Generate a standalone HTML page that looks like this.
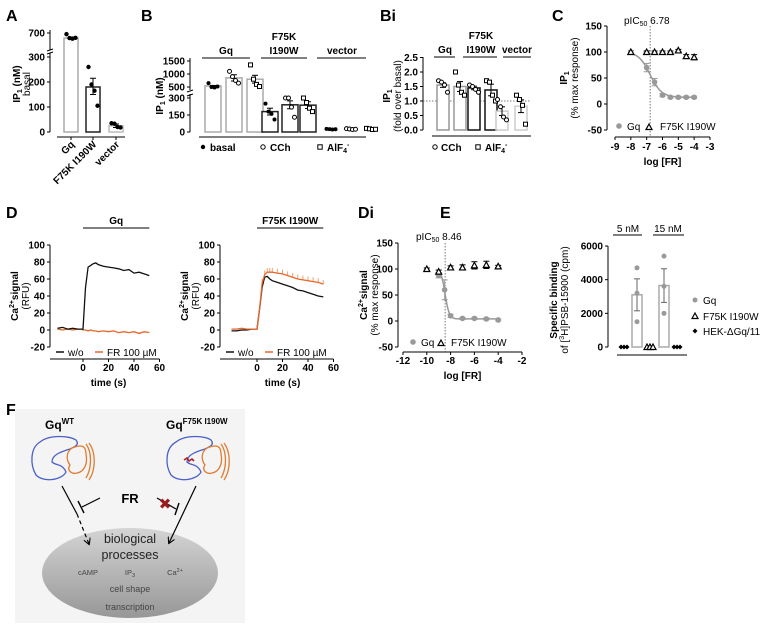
<!DOCTYPE html>
<html><head><meta charset="utf-8">
<style>
html,body{margin:0;padding:0;background:#fff;}
svg{display:block;font-family:"Liberation Sans",Arial,sans-serif;}
.t{font-size:10px;font-weight:bold;fill:#000;}
.tn{font-size:10px;fill:#000;}
.p{font-size:16px;font-weight:bold;}
</style></head><body>
<svg id="fig" width="765" height="624" viewBox="0 0 765 624" xmlns="http://www.w3.org/2000/svg">
<text class="p" x="6" y="21">A</text>
<text class="p" x="141" y="21">B</text>
<text class="p" x="380" y="21">Bi</text>
<text class="p" x="552" y="21">C</text>
<text class="p" x="6" y="218">D</text>
<text class="p" x="358" y="218">Di</text>
<text class="p" x="440" y="218">E</text>
<text class="p" x="6" y="415">F</text>
<g id="g"></g>
</svg>
<script>
// ---------- DATA ----------
// Panel A
const aCats=["Gq","F75K I190W","vector"];
const aBars=[610,180,25];
const aPts=[[680,610,600,615],[260,190,165,105],[35,33,20,18]];
const aErr=[[590,630],[150,215],[18,32]];
// Panel B
const bGroups=["Gq","F75K I190W","vector"];
const bConds=["basal","CCh","AlF4-"];
const bBars=[[540,850,800],[180,240,237],[25,25,25]];
const bPts=[[[650,500,480,520],[1100,900,750,650],[1350,800,600,520]],
            [[250,180,160,110],[300,300,220,130],[300,260,210,180]],
            [[28,25,22,24],[30,26,22,24],[32,28,22,24]]];
const bErr=[[20,120,150],[30,35,30],[3,3,3]];
// Panel Bi
const biBars=[[1.55,1.5],[1.45,1.38],[0.65,0.82]];
const biPts=[[[1.7,1.65,1.55,1.3],[2.0,1.55,1.3,1.2]],[[1.55,1.5,1.4,1.3],[1.7,1.65,1.2,1.0]],[[1.05,0.8,0.45,0.35],[1.2,1.05,0.85,0.2]]];
const biErr=[[0.08,0.17],[0.06,0.2],[0.15,0.22]];
const biTicks=["0.0","0.5","1.0","1.5","2.0","2.5"];
// Panel C
const cX=[-8,-7,-6.5,-6,-5.5,-5,-4.5,-4];
const cGq=[100,70,42,17,13,13,13,13];
const cGqErr=[3,8,7,3,2,2,2,2];
const cMut=[100,100,100,100,100,103,92,90];
const cMutErr=[2,2,2,2,2,2,3,5];
const cPIC=6.78;
// Panel D
const dT=[-20,-16,-12,-8,-4,-1,0,2,4,6,8,10,12,16,20,24,28,32,36,40,44,48,52];
const dGqWo=[2,3,1,2,1,1,1,50,74,76,78,79,77,75,74,73,72,70,71,67,68,66,64];
const dGqFR=[1,0,1,0,1,1,0,0,-1,0,-1,-1,-2,-1,-2,-1,-3,-2,-3,-2,-4,-2,-3];
const dMutWo=[-1,-1,0,0,1,1,1,25,50,62,63,60,58,56,54,52,50,47,46,44,42,40,39];
const dMutFR=[1,1,2,1,1,1,1,25,55,65,68,68,68,67,66,64,62,60,59,58,57,56,54];
// Panel Di
const diX=[-9,-8.5,-8,-7,-6,-5,-4];
const diGq=[88,60,10,5,5,4,2];
const diGqErr=[5,19,3,2,2,2,2];
const diMutX=[-10,-9,-8,-7,-6,-5,-4];
const diMut=[100,95,103,103,107,108,105];
const diMutErr=[2,3,3,5,7,7,2];
const diPIC=8.46;
// Panel E
const eConc=["5 nM","15 nM"];
const eGq=[3100,3650];
const eGqErr=[950,1000];
const eGqPts=[[4700,3200,1500],[5400,3600,2000]];
const eMut=[0,0];
const eHek=[0,0];

// ---------- HELPERS ----------
const NS="http://www.w3.org/2000/svg";
const G=document.getElementById('g');
function mk(tag,at,txt){const e=document.createElementNS(NS,tag);for(const k in at)e.setAttribute(k,at[k]);if(txt!==undefined)e.textContent=txt;G.appendChild(e);return e;}
function ln(x1,y1,x2,y2,name,st,w,dash){const e=mk('line',{x1,y1,x2,y2,stroke:st||'#000','stroke-width':w||1});if(dash)e.setAttribute('stroke-dasharray',dash);


return e;}
function tx(x,y,s,name,cls,anchor,extra){const e=mk('text',Object.assign({x,y,class:cls||'t','text-anchor':anchor||'middle'},extra||{}),s);


return e;}
function dot(x,y,kind,color,name,r){let e;r=r||2.2;
if(kind==='f')e=mk('circle',{cx:x,cy:y,r,fill:color||'#000'});
else if(kind==='o')e=mk('circle',{cx:x,cy:y,r,fill:'#fff',stroke:color||'#000','stroke-width':1});
else if(kind==='s')e=mk('rect',{x:x-r,y:y-r,width:2*r,height:2*r,fill:'#fff',stroke:color||'#000','stroke-width':1});
else if(kind==='t')e=mk('path',{d:`M${x},${y-3}L${x+3},${y+2.5}L${x-3},${y+2.5}Z`,fill:'#fff',stroke:'#000','stroke-width':1.2});
else if(kind==='d')e=mk('path',{d:`M${x},${y-2.5}L${x+2.5},${y}L${x},${y+2.5}L${x-2.5},${y}Z`,fill:'#000'});


return e;}
function bar(x,w,ytop,ybot,color,name,sw){const e=mk('rect',{x,y:Math.min(ytop,ybot),width:w,height:Math.abs(ybot-ytop),fill:'#fff',stroke:color,'stroke-width':sw||1.5});


return e;}
function err(x,y1,y2,color,name){ln(x,y1,x,y2,name,color,1);ln(x-3,y1,x+3,y1,name+'-cap',color,1);ln(x-3,y2,x+3,y2,name+'-cap',color,1);}
function yTicks(x,ticks,f,name,labels){ticks.forEach((v,i)=>{const y=f(v);ln(x-3,y,x,y,name+'-tick');tx(x-5,y+3.5,labels?labels[i]:String(v),name+'-label','t','end');});}

// ---------- PANEL A ----------
const yAl=v=>132-v*0.25, yAu=v=>33+(700-v)*0.0567;
const yA=v=>v>300?yAu(v):yAl(v);
ln(50,132,50,53,'a-y-axis');ln(50,50,50,30,'a-y-axis-upper');
ln(47,54,53,52,'a-axis-break');ln(47,51,53,49,'a-axis-break');
yTicks(50,[0,100,200,300],yAl,'a-y');yTicks(50,[700],yAu,'a-y');
const tA=tx(0,0,'','a-ylabel');tA.setAttribute('transform','translate(20,84) rotate(-90)');tA.innerHTML='IP<tspan font-size="7" dy="2">1</tspan><tspan dy="-2"> (nM)</tspan>';
const tA2=tx(0,0,'basal','a-ylabel-basal','tn');tA2.setAttribute('transform','translate(30,84) rotate(-90)');tA2.setAttribute('fill','#777');
ln(57,137,125,137,'a-x-axis');
const aX=[71,93,116], aCol=['#aaa','#222','#bbb'];
aCats.forEach((c,i)=>{bar(aX[i]-7,14,yA(aBars[i]),132,aCol[i],'a-bar-'+i);
err(aX[i],yA(aErr[i][0]),yA(aErr[i][1]),'#000','a-err-'+i);
aPts[i].forEach((v,j)=>dot(aX[i]-4.5+j*3,yA(v),'f','#000','a-point'));
ln(aX[i],137,aX[i],140,'a-x-tick');
const l=tx(0,0,c,'a-x-label-'+i,'t','end');l.setAttribute('transform',`translate(${aX[i]+4},145) rotate(-45)`);});

// ---------- PANEL B ----------
const yBl=v=>132-v*0.1133, yBu=v=>87-(v-500)*0.026;
const yB=v=>v>300?yBu(v):yBl(v);
ln(190,132,190,94,'b-y-axis');ln(190,90,190,58,'b-y-axis-upper');
ln(187,96,193,94,'b-axis-break');ln(187,92,193,90,'b-axis-break');
yTicks(190,[0,150,300],yBl,'b-y');yTicks(190,[500,1000,1500],yBu,'b-y');
const tB=tx(0,0,'','b-ylabel');tB.setAttribute('transform','translate(163,96) rotate(-90)');tB.innerHTML='IP<tspan font-size="7" dy="2">1</tspan><tspan dy="-2"> (nM)</tspan>';
ln(199,137,366,137,'b-x-axis');
const bGX=[[213,234,255],[270,290,308],[331,351,371]], bCol=['#aaa','#222','#ccc'], bK=['f','o','s'];
bGroups.forEach((g,i)=>{bGX[i].forEach((x,k)=>{
 if(i<2){bar(x-8,16,yB(bBars[i][k]),132,bCol[i],'b-bar');err(x,yB(bBars[i][k]-bErr[i][k]),yB(bBars[i][k]+bErr[i][k]),'#000','b-err');}
 bPts[i][k].forEach((v,j)=>dot(x-4.5+j*3,yB(v),bK[k],'#000','b-point',2));});});
ln(202,58,250,58,'b-group-line-gq');tx(226,54,'Gq','b-group-gq');
ln(261,58,307,58,'b-group-line-mut');tx(284,40,'F75K','b-group-mut');tx(284,54,'I190W','b-group-mut2');
ln(317,58,366,58,'b-group-line-vector');tx(342,54,'vector','b-group-vector');
dot(203,147,'f','#000','b-legend-basal-marker');tx(210,151,'basal','b-legend-basal','t','start');
dot(263,147,'o','#000','b-legend-cch-marker');tx(270,151,'CCh','b-legend-cch','t','start');
dot(320,147,'s','#000','b-legend-alf-marker');const lb=tx(327,151,'','b-legend-alf','t','start');lb.innerHTML='AlF<tspan font-size="7" dy="2">4</tspan><tspan font-size="7" dy="-6">-</tspan>';

// ---------- PANEL Bi ----------
const yBi=v=>130-v*29;
ln(423,130,423,57,'bi-y-axis');
yTicks(423,[0,0.5,1,1.5,2,2.5],yBi,'bi-y',biTicks);
ln(423,yBi(1),531,yBi(1),'bi-basal-line','#555',0.8,'1.5,1.5');
const tBi=tx(0,0,'','bi-ylabel');tBi.setAttribute('transform','translate(390,96) rotate(-90)');tBi.innerHTML='IP<tspan font-size="7" dy="2">1</tspan>';
const tBi2=tx(0,0,'(fold over basal)','bi-ylabel2','tn');tBi2.setAttribute('transform','translate(401,96) rotate(-90)');tBi2.setAttribute('font-size','11');
ln(432,136,531,136,'bi-x-axis');
const biX=[[443,460],[474,491],[502,521]], biCol=['#999','#111','#ccc'], biK=['o','s'];
biBars.forEach((g,i)=>g.forEach((v,k)=>{const x=biX[i][k];bar(x-6,12,yBi(v),130,biCol[i],'bi-bar');
 err(x,yBi(v-biErr[i][k]),yBi(v+biErr[i][k]),'#000','bi-err');
 biPts[i][k].forEach((p,j)=>dot(x-4.5+j*3,yBi(p),biK[k],'#000','bi-point',2));}));
ln(434,57,455,57,'bi-group-line-gq');tx(445,53,'Gq','bi-group-gq');
ln(463,57,497,57,'bi-group-line-mut');tx(481,39,'F75K','bi-group-mut');tx(481,53,'I190W','bi-group-mut2');
ln(503,57,531,57,'bi-group-line-vector');tx(517,53,'vector','bi-group-vector');
dot(435,147,'o','#000','bi-legend-cch-marker');tx(441,151,'CCh','bi-legend-cch','t','start');
dot(478,147,'s','#000','bi-legend-alf-marker');const lbi=tx(485,151,'','bi-legend-alf','t','start');lbi.innerHTML='AlF<tspan font-size="7" dy="2">4</tspan><tspan font-size="7" dy="-6">-</tspan>';

// ---------- PANEL C ----------
const xC=v=>615+(v+9)*15.83, yC=v=>104-v*0.52;
ln(607,yC(-50),607,yC(150),'c-y-axis');yTicks(607,[-50,0,50,100,150],yC,'c-y');
ln(xC(-9),137,xC(-3),137,'c-x-axis');
[-9,-8,-7,-6,-5,-4,-3].forEach(v=>{ln(xC(v),137,xC(v),140,'c-x-tick');tx(xC(v),150,String(v),'c-x-label');});
tx(xC(-6),165,'log [FR]','c-x-title');
const tC=tx(0,0,'','c-ylabel');tC.setAttribute('transform','translate(567,78) rotate(-90)');tC.innerHTML='IP<tspan font-size="7" dy="2">1</tspan>';
const tC2=tx(0,0,'(% max response)','c-ylabel2','tn');tC2.setAttribute('transform','translate(578,78) rotate(-90)');tC2.setAttribute('font-size','11');
ln(xC(-cPIC),yC(150),xC(-cPIC),137,'c-pic50-line','#555',0.8,'1.5,1.5');
const pc=tx(624,24,'','c-pic50-label','tn','start');pc.innerHTML='pIC<tspan font-size="7" dy="2">50</tspan><tspan dy="-2"> '+cPIC.toFixed(2)+'</tspan>';
let dc='';for(let v=-8;v<=-4;v+=0.05){const f=13+87/(1+Math.pow(10,(v+cPIC)*1.2));dc+=(dc?'L':'M')+xC(v).toFixed(1)+','+yC(f).toFixed(1);}
const cc=mk('path',{d:dc,fill:'none',stroke:'#999','stroke-width':1.5});


cX.forEach((x,i)=>{err(xC(x),yC(cGq[i]-cGqErr[i]),yC(cGq[i]+cGqErr[i]),'#999','c-gq-err');dot(xC(x),yC(cGq[i]),'f','#999','c-gq-point',2.8);});
cX.forEach((x,i)=>{if(i>0)err(xC(x),yC(cMut[i]-cMutErr[i]),yC(cMut[i]+cMutErr[i]),'#000','c-mut-err');dot(xC(x),yC(cMut[i]),'t','#000','c-mut-point');});
dot(619,126,'f','#999','c-legend-gq-marker',2.8);tx(627,130,'Gq','c-legend-gq','tn','start').setAttribute('font-size','11');
dot(649,127,'t','#000','c-legend-mut-marker');tx(660,130,'F75K I190W','c-legend-mut','tn','start').setAttribute('font-size','11');

// ---------- PANEL D ----------
const yD=v=>330-v*0.85;
function dPanel(ax,x0,ttl,wo,fr,pre){
 const xf=t=>x0+t*1.275;
 ln(ax,yD(100),ax,yD(-20),pre+'-y-axis');yTicks(ax,[-20,0,20,40,60,80,100],yD,pre+'-y');
 ln(ax,359,xf(60),359,pre+'-x-axis');
 [0,20,40,60].forEach(v=>{ln(xf(v),359,xf(v),362,pre+'-x-tick');tx(xf(v),371,String(v),pre+'-x-label');});
 tx(xf(20),386,'time (s)',pre+'-x-title');
 const yl=tx(0,0,'',pre+'-ylabel');yl.setAttribute('transform',`translate(${ax-32},296) rotate(-90)`);yl.innerHTML='Ca<tspan font-size="7" dy="-4">2+</tspan><tspan dy="4">signal</tspan>';
 const yl2=tx(0,0,'(RFU)',pre+'-ylabel2','tn');yl2.setAttribute('transform',`translate(${ax-21},296) rotate(-90)`);yl2.setAttribute('font-size','11');
 ln(xf(0),228,xf(52),228,pre+'-title-line');tx(xf(26),224,ttl,pre+'-title');
 if(pre==='d-mut'){dT.forEach((t,i)=>{if(t>=4)ln(xf(t),yD(fr[i]),xf(t),yD(fr[i]+5),'d-mut-fr-err','#f0a070',1);});}
 const pl=(arr,col,nm)=>{const e=mk('path',{d:dT.map((t,i)=>(i?'L':'M')+xf(t).toFixed(1)+','+yD(arr[i]).toFixed(1)).join(''),fill:'none',stroke:col,'stroke-width':1.3});
  
  };
 if(pre==='d-gq'){pl(fr,'#e8662a',pre+'-fr-trace');pl(wo,'#111',pre+'-wo-trace');}else{pl(wo,'#111',pre+'-wo-trace');pl(fr,'#e8662a',pre+'-fr-trace');}
 ln(ax+6,352,ax+14,352,pre+'-legend-wo-line','#111',1.5);tx(ax+18,356,'w/o',pre+'-legend-wo','tn','start').setAttribute('font-size','11');
 ln(ax+45,352,ax+53,352,pre+'-legend-fr-line','#e8662a',1.5);tx(ax+57,356,'FR 100 µM',pre+'-legend-fr','tn','start').setAttribute('font-size','11');
}
dPanel(50,83,'Gq',dGqWo,dGqFR,'d-gq');
dPanel(220,257,'F75K I190W',dMutWo,dMutFR,'d-mut');

// ---------- PANEL Di ----------
const xDi=v=>403+(v+12)*11.9, yDi=v=>321-v*0.52;
ln(398,yDi(-50),398,yDi(150),'di-y-axis');yTicks(398,[-50,0,50,100,150],yDi,'di-y');
ln(xDi(-12),352,xDi(-2),352,'di-x-axis');
[-12,-10,-8,-6,-4,-2].forEach(v=>{ln(xDi(v),352,xDi(v),355,'di-x-tick');tx(xDi(v),364,String(v),'di-x-label');});
tx(xDi(-7),379,'log [FR]','di-x-title');
const yli=tx(0,0,'','di-ylabel');yli.setAttribute('transform','translate(367,295) rotate(-90)');yli.innerHTML='Ca<tspan font-size="7" dy="-4">2+</tspan><tspan dy="4">signal</tspan>';
const yli2=tx(0,0,'(% max response)','di-ylabel2','tn');yli2.setAttribute('transform','translate(378,295) rotate(-90)');yli2.setAttribute('font-size','10.5');
ln(xDi(-diPIC),yDi(150),xDi(-diPIC),352,'di-pic50-line','#555',0.8,'1.5,1.5');
const pd=tx(416,240,'','di-pic50-label','tn','start');pd.innerHTML='pIC<tspan font-size="7" dy="2">50</tspan><tspan dy="-2"> '+diPIC.toFixed(2)+'</tspan>';
let dd='';for(let v=-9;v<=-4;v+=0.05){const f=4+96/(1+Math.pow(10,(v+diPIC)*2.5));dd+=(dd?'L':'M')+xDi(v).toFixed(1)+','+yDi(f).toFixed(1);}
const cd=mk('path',{d:dd,fill:'none',stroke:'#999','stroke-width':1.5});


diX.forEach((x,i)=>{err(xDi(x),yDi(diGq[i]-diGqErr[i]),yDi(diGq[i]+diGqErr[i]),'#999','di-gq-err');dot(xDi(x),yDi(diGq[i]),'f','#999','di-gq-point',2.8);});
diMutX.forEach((x,i)=>{err(xDi(x),yDi(diMut[i]-diMutErr[i]),yDi(diMut[i]+diMutErr[i]),'#000','di-mut-err');dot(xDi(x),yDi(diMut[i]),'t','#000','di-mut-point');});
dot(413,342,'f','#999','di-legend-gq-marker',2.8);tx(421,346,'Gq','di-legend-gq','tn','start').setAttribute('font-size','11');
dot(441,343,'t','#000','di-legend-mut-marker');tx(451,346,'F75K I190W','di-legend-mut','tn','start').setAttribute('font-size','11');

// ---------- PANEL E ----------
const yE=v=>347-v*0.01683;
ln(608,yE(0),608,yE(6000),'e-y-axis');yTicks(608,[0,2000,4000,6000],yE,'e-y');
ln(617,355,687,355,'e-x-axis');
const eGX=[637,664],eHX=[624,677];
eConc.forEach((c,i)=>{bar(eGX[i]-5,10,yE(eGq[i]),yE(0),'#aaa','e-gq-bar-'+i);
 err(eGX[i],yE(eGq[i]-eGqErr[i]),yE(eGq[i]+eGqErr[i]),'#666','e-gq-err');
 eGqPts[i].forEach(v=>dot(eGX[i],yE(v),'f','#999','e-gq-point',2.5));
 [-3,0,3].forEach(o=>dot(eHX[i]+o,yE(eHek[i]),'d','#000','e-hek-point'));});
[-3,0,3].forEach(o=>dot(650+o,yE(eMut[0]),'t','#000','e-mut-point'));
ln(613,235,642,235,'e-conc-line-5');tx(628,232,eConc[0],'e-conc-5','tn').setAttribute('font-size','11');
ln(653,235,684,235,'e-conc-line-15');tx(668,232,eConc[1],'e-conc-15','tn').setAttribute('font-size','11');
const ye=tx(0,0,'Specific binding','e-ylabel');ye.setAttribute('transform','translate(557,300) rotate(-90)');
const ye2=tx(0,0,'','e-ylabel2','tn');ye2.setAttribute('transform','translate(568,300) rotate(-90)');ye2.innerHTML='of [<tspan font-size="7" dy="-4">3</tspan><tspan dy="4">H]PSB-15900 (cpm)</tspan>';
dot(695,300,'f','#999','e-legend-gq-marker',2.5);tx(703,304,'Gq','e-legend-gq','tn','start').setAttribute('font-size','11');
dot(695,316,'t','#000','e-legend-mut-marker');tx(703,320,'F75K I190W','e-legend-mut','tn','start').setAttribute('font-size','11');
dot(695,331,'d','#000','e-legend-hek-marker');tx(703,335,'HEK-ΔGq/11','e-legend-hek','tn','start').setAttribute('font-size','11');
</script>
<svg style="position:absolute;left:0;top:0" width="765" height="624">
<defs>
<linearGradient id="ell" x1="0" y1="0" x2="0" y2="1"><stop offset="0" stop-color="#d4d4d4"/><stop offset="1" stop-color="#979797"/></linearGradient>
<marker id="ah" viewBox="0 0 10 10" refX="8" refY="5" markerWidth="6" markerHeight="6" orient="auto"><path d="M0,0L9,5L0,10" fill="none" stroke="#000" stroke-width="1.5"/></marker>
</defs>
<rect x="15" y="409" width="230" height="214" fill="#f4f4f4"/>
<text x="45" y="429" font-size="12" font-weight="bold" font-family="Liberation Sans,sans-serif">Gq<tspan font-size="8" dy="-5">WT</tspan></text>
<text x="166" y="429" font-size="12" font-weight="bold" font-family="Liberation Sans,sans-serif">Gq<tspan font-size="8" dy="-5">F75K I190W</tspan></text>
<g fill="none" stroke-width="1.3">
<path d="M40,442 C50,434 70,436 76,440 C80,445 74,447 70,449 C60,452 52,455 52,462 C56,466 62,463 66,472 C62,480 44,483 36,475 C30,465 30,448 40,442Z" stroke="#4a5fc8"/>
<path d="M72,448 C82,444 86,446 86,454 C88,464 84,470 80,472 C72,476 66,470 70,465 C66,460 66,452 72,448Z" stroke="#e07b30"/>
<path d="M86,444 C92,452 92,468 86,478 M89,443 C96,452 96,470 89,480" stroke="#e07b30"/>
</g>
<g fill="none" stroke-width="1.3">
<path d="M176,442 C186,434 206,436 211,440 C215,445 209,447 205,449 C195,452 187,455 187,462 C191,466 197,463 201,472 C197,480 179,483 171,475 C165,465 165,448 176,442Z" stroke="#4a5fc8"/>
<path d="M207,448 C217,444 221,446 221,454 C223,464 219,470 215,472 C207,476 201,470 205,465 C201,460 201,452 207,448Z" stroke="#e07b30"/>
<path d="M221,444 C227,452 227,468 221,478 M224,443 C231,452 231,470 224,480" stroke="#e07b30"/>
<path d="M184,460 l3,-2 l2,3 l3,-2 l2,2" stroke="#b02020" stroke-width="1.6"/>
</g>
<ellipse cx="130" cy="573" rx="88" ry="45" fill="url(#ell)"/>
<line x1="62" y1="486" x2="77" y2="514" stroke="#000" stroke-width="1.2"/>
<line x1="77" y1="514" x2="89" y2="544" stroke="#000" stroke-width="1.2" stroke-dasharray="4,3" marker-end="url(#ah)"/>
<line x1="100" y1="498" x2="82" y2="507" stroke="#000" stroke-width="1.2"/>
<line x1="78" y1="501" x2="84" y2="513" stroke="#000" stroke-width="1.4"/>
<line x1="196" y1="486" x2="169" y2="543" stroke="#000" stroke-width="1.2" marker-end="url(#ah)"/>
<line x1="157" y1="498" x2="176" y2="509" stroke="#000" stroke-width="1.2"/>
<line x1="179" y1="503" x2="175" y2="515" stroke="#000" stroke-width="1.4"/>
<text x="165" y="509" font-size="15" font-weight="bold" fill="#9b1c1c" text-anchor="middle" font-family="DejaVu Sans,sans-serif">✖</text>
<text x="130" y="503" font-size="13" font-weight="bold" text-anchor="middle" font-family="Liberation Sans,sans-serif">FR</text>
<g font-family="Liberation Sans,sans-serif" text-anchor="middle" fill="#222">
<text x="130" y="543" font-size="12.5">biological</text>
<text x="130" y="559" font-size="12.5">processes</text>
<text x="88" y="575" font-size="7.5" fill="#444">cAMP</text>
<text x="130" y="575" font-size="7.5" fill="#444">IP<tspan font-size="5.5" dy="2">3</tspan></text>
<text x="175" y="575" font-size="7.5" fill="#444">Ca<tspan font-size="5.5" dy="-3">2+</tspan></text>
<text x="130" y="592" font-size="9" fill="#444">cell shape</text>
<text x="130" y="610" font-size="9" fill="#444">transcription</text>
</g>
</svg>
<style>body{position:relative;width:765px;height:624px;}</style>
</body></html>
